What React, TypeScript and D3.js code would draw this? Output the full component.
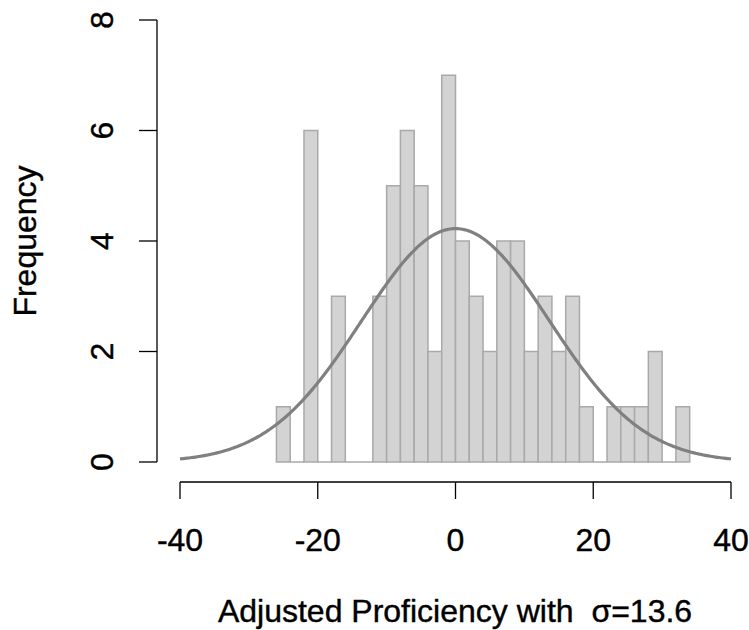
import React from "react";
import * as d3 from "d3";

// Histogram bins (left edges) and their counts
const binStarts = [-26, -24, -22, -20, -18, -16, -14, -12, -10, -8, -6, -4, -2, 0, 2, 4, 6, 8, 10, 12, 14, 16, 18, 20, 22, 24, 26, 28, 30, 32];
const counts = [1, 0, 6, 0, 3, 0, 0, 3, 5, 6, 5, 2, 7, 4, 3, 2, 4, 4, 2, 3, 2, 3, 1, 0, 1, 1, 1, 2, 0, 1];
const binWidth = 2;
const sigma = 13.6;
const mu = 0;

const xTicks = [-40, -20, 0, 20, 40];
const yTicks = [0, 2, 4, 6, 8];

const W = 749;
const H = 630;

export default function App() {
  const x = d3.scaleLinear().domain([-40, 40]).range([180, 731]);
  const y = d3.scaleLinear().domain([0, 8]).range([462, 20]);

  const n = d3.sum(counts);
  const density = (v: number) =>
    (n * binWidth * Math.exp(-((v - mu) ** 2) / (2 * sigma * sigma))) /
    (sigma * Math.sqrt(2 * Math.PI));
  const curvePts = d3.range(-40, 40.001, 0.25).map((v) => [v, density(v)] as [number, number]);
  const line = d3
    .line<[number, number]>()
    .x((d) => x(d[0]))
    .y((d) => y(d[1]));

  const font = "'Liberation Sans', Arial, Helvetica, sans-serif";
  const fs = 32;
  const axisY = 482;
  const axisX = 157;
  // slightly heavier glyphs
  const textStroke = { stroke: "#000", strokeWidth: 0.4 };

  return (
    <svg
      width={W}
      height={H}
      style={{ position: "absolute", left: 0, top: 0, background: "#fff" }}
      fontFamily={font}
    >
      {/* bars (empty bins collapse to a line on the baseline) */}
      {binStarts.map((b, i) =>
        counts[i] > 0 ? (
          <rect
            key={b}
            x={x(b)}
            y={y(counts[i])}
            width={x(b + binWidth) - x(b)}
            height={y(0) - y(counts[i])}
            fill="#d3d3d3"
            stroke="#a9a9a9"
            strokeWidth={1.5}
          />
        ) : (
          <line
            key={b}
            x1={x(b)}
            x2={x(b + binWidth)}
            y1={y(0)}
            y2={y(0)}
            stroke="#a9a9a9"
            strokeWidth={1.5}
          />
        )
      )}
      {/* fitted normal curve */}
      <path d={line(curvePts) || ""} fill="none" stroke="#808080" strokeWidth={3.2} />

      {/* x axis */}
      <line x1={x(-40)} x2={x(40)} y1={axisY} y2={axisY} stroke="#000" strokeWidth={1.3} />
      {xTicks.map((t) => (
        <g key={t}>
          <line x1={x(t)} x2={x(t)} y1={axisY} y2={axisY + 17} stroke="#000" strokeWidth={1.3} />
          <text x={x(t)} y={551} textAnchor="middle" fontSize={fs} fill="#000" {...textStroke}>
            {t}
          </text>
        </g>
      ))}

      {/* y axis */}
      <line x1={axisX} x2={axisX} y1={y(0)} y2={y(8)} stroke="#000" strokeWidth={1.3} />
      {yTicks.map((t) => (
        <g key={t}>
          <line x1={axisX} x2={axisX - 18} y1={y(t)} y2={y(t)} stroke="#000" strokeWidth={1.3} />
          <text
            transform={`translate(113,${y(t)}) rotate(-90)`}
            textAnchor="middle"
            fontSize={fs}
            fill="#000"
            {...textStroke}
          >
            {t}
          </text>
        </g>
      ))}

      {/* axis titles */}
      <text
        x={455}
        y={622}
        textAnchor="middle"
        fontSize={fs}
        fill="#000"
        style={{ whiteSpace: "pre" }}
        {...textStroke}
      >
        {"Adjusted Proficiency with  σ=13.6"}
      </text>
      <text
        transform={`translate(36,${y(4)}) rotate(-90)`}
        textAnchor="middle"
        fontSize={fs}
        fill="#000"
        {...textStroke}
      >
        Frequency
      </text>
    </svg>
  );
}
